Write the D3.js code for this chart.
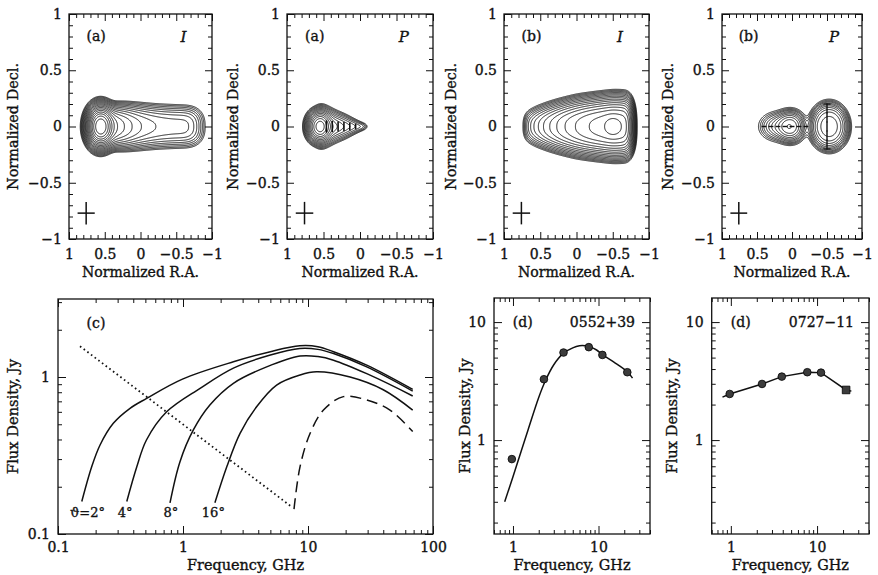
<!DOCTYPE html>
<html><head><meta charset="utf-8">
<script src="https://cdn.jsdelivr.net/npm/d3@7"></script>
<style>
body{margin:0;background:#fff}
svg{display:block}
text{font-family:"DejaVu Serif",serif;fill:#111;stroke:#111;stroke-width:0.35px}
</style></head>
<body><svg id="c" width="878" height="575"></svg>
<script>
// ================= DATA =================
// map tick values (normalized coordinates)
const mapTicks = [1, 0.5, 0, -0.5, -1];
// --- (a) I : core + jet
const aI_blobs = [{x:0.56, y:0, sx:0.08, sy:0.076, a:1, p:2}];
const aI_jetX  = [0.5, 0.4, 0.3, 0.2, 0.1, 0.0, -0.2, -0.4, -0.6, -0.7, -0.76];
const aI_jetA  = [0.2, 0.15, 0.11, 0.078, 0.056, 0.043, 0.031, 0.027, 0.026, 0.028, 0.028];
const aI_jetSy = [0.09, 0.095, 0.1, 0.102, 0.104, 0.104, 0.103, 0.102, 0.1, 0.1, 0.1];
const aI_levels = [0.002,0.0028,0.004,0.0057,0.008,0.0113,0.016,0.0226,0.032,0.045,0.064,0.09,0.128,0.18,0.256,0.36,0.51,0.72];
// --- (a) P
const aP_blobs = [{x:0.56, y:0, sx:0.075, sy:0.062, a:1, p:2}];
const aP_jetX  = [0.56, 0.4, 0.2, 0.05, -0.07];
const aP_jetA  = [0.3, 0.2, 0.1, 0.05, 0.03];
const aP_jetSy = [0.078, 0.068, 0.052, 0.033, 0.018];
const aP_levels = [0.01,0.014,0.02,0.028,0.04,0.057,0.08,0.113,0.16,0.226,0.32,0.45,0.64,0.9];
const aP_vecRA  = [0.46, 0.38, 0.30, 0.22, 0.14, 0.06];
const aP_vecLen = [0.11, 0.10, 0.09, 0.08, 0.07, 0.05];
// --- (b) I
const bI_blobs = [{x:-0.5, y:0, sx:0.07, sy:0.05, a:0.25, p:2}];
const bI_jetX  = [-0.72, -0.6, -0.5, -0.4, -0.2, 0.0, 0.15, 0.3, 0.45, 0.55, 0.62, 0.69];
const bI_jetA  = [0.6, 0.68, 0.72, 0.66, 0.53, 0.37, 0.26, 0.16, 0.09, 0.055, 0.035, 0.02];
const bI_jetSy = [0.13, 0.13, 0.13, 0.128, 0.124, 0.12, 0.114, 0.108, 0.1, 0.094, 0.088, 0.082];
const bI_levels = [0.004,0.0057,0.008,0.0113,0.016,0.0226,0.032,0.045,0.064,0.09,0.128,0.18,0.256,0.36,0.51,0.72];
// --- (b) P : two components
const bP_blobs = [
  {x:0.02, y:0, sx:0.105, sy:0.07, a:0.9, p:2.2},
  {x:0.2, y:0, sx:0.13, sy:0.063, a:0.3, p:2},
  {x:-0.53, y:0, sx:0.165, sy:0.125, a:1.2, p:3}
];
const bP_levels = [0.03,0.045,0.065,0.09,0.13,0.18,0.25,0.35,0.5,0.7,1.0];
const bP_hvecRA  = [0.4, 0.3, 0.2, 0.1, 0.0, -0.1, -0.2];
const bP_vvecDec = [0.16, 0.08, 0, -0.08, -0.16];
// beam cross
const beamRA = 0.76, beamDec = -0.77;

// --- (c) model spectra
const cXTicks = [0.1, 1, 10, 100];
const cYTicks = [0.1, 1];
const c2Freq  = [0.155,0.186,0.217,0.277,0.377,0.512,0.99,2.53,5,8.6,12,16,29.5,68.8];
const c2Flux  = [0.161,0.268,0.369,0.507,0.632,0.731,0.97,1.25,1.45,1.58,1.56,1.45,1.19,0.834];
const c4Freq  = [0.355,0.427,0.51,0.74,1.37,2.53,5,8.6,12,16,29.5,68.8];
const c4Flux  = [0.161,0.268,0.397,0.6,0.847,1.14,1.38,1.52,1.5,1.41,1.16,0.814];
const c8Freq  = [0.787,0.946,1.21,1.64,2.53,4.67,8.63,12,16,29.5,68.8];
const c8Flux  = [0.158,0.289,0.46,0.663,0.912,1.16,1.36,1.35,1.28,1.05,0.757];
const c16Freq = [1.8,2.24,2.86,3.88,5.61,8.63,11.7,21.7,40,68.8];
const c16Flux = [0.158,0.268,0.438,0.647,0.889,1.03,1.08,1.0,0.83,0.616];
const cDashFreq = [7.73,8.63,10.4,13.3,19.2,29.5,45.3,68.8];
const cDashFlux = [0.144,0.268,0.438,0.616,0.75,0.714,0.616,0.449];
const cDotFreq = [0.15, 7.4];
const cDotFlux = [1.57, 0.149];
const cAngleLabels = ["\u03D1=2\u00B0", "4\u00B0", "8\u00B0", "16\u00B0"];
const cAngleFreq = [0.172, 0.345, 0.8, 1.75];

// --- (d) observed spectra (RATAN-600 frequencies)
const dXTicks = [1, 10];
const dYTicks = [1, 10];
const obsFreq = [0.97, 2.3, 3.9, 7.7, 11.1, 21.7];
const s0552Flux = [0.69, 3.28, 5.52, 6.13, 5.27, 3.76];
const s0552FitFreq = [0.8,1.0,1.5,2.0,2.4,3.0,3.9,5.0,6.0,7.0,8.0,9.5,11.1,15,21.7,25];
const s0552FitFlux = [0.3,0.49,1.22,2.3,3.2,4.35,5.45,6.05,6.3,6.3,6.15,5.8,5.3,4.6,3.8,3.35];
const s0727Flux = [2.46, 2.99, 3.45, 3.76, 3.73, 2.66];
const s0727FitFreq = [0.8, 0.97, 2.3, 3.9, 7.7, 11.1, 21.7, 25];
const s0727FitFlux = [2.31, 2.46, 2.99, 3.45, 3.76, 3.73, 2.66, 2.6];

// ================= DRAWING =================
const svg = d3.select('#c');
const INK = '#111';
const fmtNum = v => (v < 0 ? '\u2212' : '') + Math.abs(v);

function styleAxis(g, fs) {
  g.select('.domain').remove();
  g.attr('font-family', null).attr('font-size', null);
  g.selectAll('line').attr('stroke', INK).attr('stroke-width', 1);
  g.selectAll('text').attr('font-size', fs || 14).attr('fill', INK);
}
function axisOf(orient, scale) {
  return ({bottom:d3.axisBottom, top:d3.axisTop, left:d3.axisLeft, right:d3.axisRight})[orient](scale);
}
function ticks(parent, tx, ty, orient, scale, values, size, labels, pad) {
  const ax = axisOf(orient, scale).tickValues(values).tickSizeInner(-size).tickSizeOuter(0)
    .tickPadding(pad || 0).tickFormat(labels ? fmtNum : () => '');
  const g = parent.append('g').attr('transform', `translate(${tx},${ty})`).call(ax);
  styleAxis(g);
  return g;
}
function frame(g, l, r, t, b) {
  g.append('rect').attr('x', l).attr('y', t).attr('width', r - l).attr('height', b - t)
    .attr('fill', 'none').attr('stroke', INK).attr('stroke-width', 1.3);
}
function logMinor(dom) {
  const out = [];
  const lo = Math.floor(Math.log10(dom[0])) , hi = Math.ceil(Math.log10(dom[1]));
  for (let d = lo; d <= hi; d++) for (let m = 2; m <= 9; m++) {
    const v = m * Math.pow(10, d);
    if (v >= dom[0] * 0.999 && v <= dom[1] * 1.001) out.push(v);
  }
  return out;
}

// ---------- contour maps ----------
const mapTop = 14, mapBottom = 239;
const maps = [
  {left:69,  right:212, ytx:13,  tag:'(a)', pol:'I', blobs:aI_blobs, jet:{x:aI_jetX, a:aI_jetA, sy:aI_jetSy, sx:0.095, p:2.5}, levels:aI_levels},
  {left:287, right:433, ytx:233, tag:'(a)', pol:'P', blobs:aP_blobs, jet:{x:aP_jetX, a:aP_jetA, sy:aP_jetSy, sx:0.04, p:2}, levels:aP_levels},
  {left:504, right:649, ytx:451, tag:'(b)', pol:'I', blobs:bI_blobs, jet:{x:bI_jetX, a:bI_jetA, sy:bI_jetSy, sx:0.045, p:2.5}, levels:bI_levels},
  {left:722, right:862, ytx:668, tag:'(b)', pol:'P', blobs:bP_blobs, jet:null, levels:bP_levels}
];

function computeField(m, xs, ys, nx, ny, ss) {
  const v = new Float64Array(nx * ny);
  const X = new Float64Array(nx), Y = new Float64Array(ny);
  for (let i = 0; i < nx; i++) X[i] = xs.invert((i + 0.5) / ss);
  for (let j = 0; j < ny; j++) Y[j] = ys.invert((j + 0.5) / ss);
  for (const b of m.blobs) {
    for (let j = 0; j < ny; j++) {
      const dy = (Y[j] - b.y) / b.sy;
      for (let i = 0; i < nx; i++) {
        const dx = (X[i] - b.x) / b.sx;
        const r2 = dx * dx + dy * dy;
        v[j * nx + i] += b.a * Math.exp(-0.5 * Math.pow(r2, b.p / 2));
      }
    }
  }
  const r = m.jet;
  if (r) {
    const aS = d3.scaleLinear().domain(r.x).range(r.a);
    const syS = d3.scaleLinear().domain(r.x).range(r.sy);
    const lo = d3.min(r.x), hi = d3.max(r.x), step = 0.01;
    const norm = step / (Math.sqrt(2 * Math.PI) * r.sx);
    const gy = new Float64Array(ny);
    for (let s = lo; s <= hi + 1e-9; s += step) {
      const a = aS(s) * norm, sy = syS(s);
      for (let j = 0; j < ny; j++) gy[j] = Math.exp(-0.5 * Math.pow(Math.abs(Y[j]) / sy, r.p));
      for (let i = 0; i < nx; i++) {
        const u = (X[i] - s) / r.sx;
        if (u * u > 30) continue;
        const ag = a * Math.exp(-0.5 * u * u);
        for (let j = 0; j < ny; j++) if (gy[j] > 1e-8) v[j * nx + i] += ag * gy[j];
      }
    }
  }
  return v;
}

maps.forEach((m, k) => {
  const g = svg.append('g');
  const w = m.right - m.left, h = mapBottom - mapTop;
  const xs = d3.scaleLinear().domain([1, -1]).range([0, w]);
  const ys = d3.scaleLinear().domain([1, -1]).range([0, h]);
  const X = d3.scaleLinear().domain([1, -1]).range([m.left, m.right]);
  const Y = d3.scaleLinear().domain([1, -1]).range([mapTop, mapBottom]);

  // contours
  const ss = 2, nx = Math.round(w * ss), ny = Math.round(h * ss);
  const vals = computeField(m, xs, ys, nx, ny, ss);
  const cs = d3.contours().size([nx, ny]).thresholds(m.levels)(Array.from(vals));
  const path = d3.geoPath(d3.geoIdentity().scale(1 / ss));
  g.append('g').attr('transform', `translate(${m.left},${mapTop})`)
    .selectAll('path').data(cs).join('path')
    .attr('d', path).attr('fill', 'none').attr('stroke', INK).attr('stroke-width', 0.95);

  // polarization vectors
  if (k === 1) {
    g.append('g').selectAll('line').data(aP_vecRA).join('line')
      .attr('x1', d => X(d)).attr('x2', d => X(d))
      .attr('y1', (d, i) => Y(aP_vecLen[i] / 2)).attr('y2', (d, i) => Y(-aP_vecLen[i] / 2))
      .attr('stroke', INK).attr('stroke-width', 1.6);
  }
  if (k === 3) {
    g.append('g').selectAll('line').data(bP_hvecRA).join('line')
      .attr('x1', d => X(d + 0.035)).attr('x2', d => X(d - 0.035))
      .attr('y1', Y(0)).attr('y2', Y(0)).attr('stroke', INK).attr('stroke-width', 1.4);
    g.append('g').selectAll('line').data(bP_vvecDec).join('line')
      .attr('x1', X(-0.5)).attr('x2', X(-0.5))
      .attr('y1', d => Y(d + 0.045)).attr('y2', d => Y(d - 0.045)).attr('stroke', INK).attr('stroke-width', 1.4);
    g.append('g').selectAll('line').data([0.2, -0.2]).join('line')
      .attr('x1', X(-0.45)).attr('x2', X(-0.55))
      .attr('y1', d => Y(d)).attr('y2', d => Y(d)).attr('stroke', INK).attr('stroke-width', 1.2);
  }
  // beam cross
  g.append('line').attr('x1', X(beamRA + 0.12)).attr('x2', X(beamRA - 0.12))
    .attr('y1', Y(beamDec)).attr('y2', Y(beamDec)).attr('stroke', INK).attr('stroke-width', 1.5);
  g.append('line').attr('x1', X(beamRA)).attr('x2', X(beamRA))
    .attr('y1', Y(beamDec + 0.1)).attr('y2', Y(beamDec - 0.1)).attr('stroke', INK).attr('stroke-width', 1.5);

  // frame & ticks
  const minor = d3.range(-10, 11).map(d => d / 10).filter(d => Math.abs(d * 2 - Math.round(d * 2)) > 1e-6);
  frame(g, m.left, m.right, mapTop, mapBottom);
  ticks(g, 0, mapBottom, 'bottom', X, mapTicks, 7, true, 10);
  ticks(g, 0, mapBottom, 'bottom', X, minor, 4, false);
  ticks(g, 0, mapTop, 'top', X, mapTicks, 7, false);
  ticks(g, 0, mapTop, 'top', X, minor, 4, false);
  ticks(g, m.left, 0, 'left', Y, mapTicks, 7, true, 7);
  ticks(g, m.left, 0, 'left', Y, minor, 4, false);
  ticks(g, m.right, 0, 'right', Y, mapTicks, 7, false);
  ticks(g, m.right, 0, 'right', Y, minor, 4, false);

  // titles
  g.append('text').attr('x', (m.left + m.right) / 2).attr('y', 277).attr('text-anchor', 'middle')
    .attr('font-size', 14).attr('textLength', 117).attr('lengthAdjust', 'spacingAndGlyphs').text('Normalized R.A.');
  g.append('text').attr('transform', `translate(${m.ytx},${(mapTop + mapBottom) / 2}) rotate(-90)`)
    .attr('text-anchor', 'middle').attr('dy', '0.35em').attr('font-size', 14)
    .attr('textLength', 127).attr('lengthAdjust', 'spacingAndGlyphs').text('Normalized Decl.');
  g.append('text').attr('x', X(0.62)).attr('y', Y(0.8)).attr('dy', '0.35em').attr('text-anchor', 'middle')
    .attr('font-size', 14).text(m.tag);
  g.append('text').attr('x', X(-0.6)).attr('y', Y(0.8)).attr('dy', '0.35em').attr('text-anchor', 'middle')
    .attr('font-size', 15).attr('font-style', 'italic').text(m.pol);
});

// ---------- log panels ----------
function logPanel(p) {
  const g = svg.append('g');
  const X = d3.scaleLog().domain(p.xd).range([p.left, p.right]);
  const Y = d3.scaleLog().domain(p.yd).range([p.bottom, p.top]);
  frame(g, p.left, p.right, p.top, p.bottom);
  const xm = logMinor(p.xd), ym = logMinor(p.yd);
  const xM = p.xTicks.filter(v => v >= p.xd[0] * 0.999 && v <= p.xd[1] * 1.001);
  const yM = p.yTicks.filter(v => v >= p.yd[0] * 0.999 && v <= p.yd[1] * 1.001);
  ticks(g, 0, p.bottom, 'bottom', X, xM, 8, true, 8);
  ticks(g, 0, p.bottom, 'bottom', X, xm, 4, false);
  ticks(g, 0, p.top, 'top', X, xM, 8, false);
  ticks(g, 0, p.top, 'top', X, xm, 4, false);
  ticks(g, p.left, 0, 'left', Y, yM, 8, true, 8);
  ticks(g, p.left, 0, 'left', Y, ym, 4, false);
  ticks(g, p.right, 0, 'right', Y, yM, 8, false);
  ticks(g, p.right, 0, 'right', Y, ym, 4, false);
  g.append('text').attr('x', (p.left + p.right) / 2).attr('y', 570).attr('text-anchor', 'middle')
    .attr('font-size', 14).attr('textLength', 117).attr('lengthAdjust', 'spacingAndGlyphs').text('Frequency, GHz');
  g.append('text').attr('transform', `translate(${p.ytx},${(p.top + p.bottom) / 2}) rotate(-90)`)
    .attr('text-anchor', 'middle').attr('dy', '0.35em').attr('font-size', 14)
    .attr('textLength', 115).attr('lengthAdjust', 'spacingAndGlyphs').text('Flux Density, Jy');
  return {g, X, Y};
}

// (c)
{
  const {g, X, Y} = logPanel({left:58, right:433, top:299, bottom:534, xd:[0.1, 100], yd:[0.1, 3.14], xTicks:cXTicks, yTicks:cYTicks, ytx:13});
  const line = d3.line().x(d => X(d[0])).y(d => Y(d[1])).curve(d3.curveCatmullRom.alpha(0.5));
  const series = [[c2Freq, c2Flux], [c4Freq, c4Flux], [c8Freq, c8Flux], [c16Freq, c16Flux]];
  series.forEach(([f, s]) => {
    g.append('path').attr('d', line(f.map((v, i) => [v, s[i]]))).attr('fill', 'none')
      .attr('stroke', INK).attr('stroke-width', 1.5);
  });
  g.append('path').attr('d', line(cDashFreq.map((v, i) => [v, cDashFlux[i]]))).attr('fill', 'none')
    .attr('stroke', INK).attr('stroke-width', 1.5).attr('stroke-dasharray', '11,6');
  g.append('path').attr('d', d3.line().x(d => X(d[0])).y(d => Y(d[1]))(cDotFreq.map((v, i) => [v, cDotFlux[i]])))
    .attr('fill', 'none').attr('stroke', INK).attr('stroke-width', 1.8).attr('stroke-dasharray', '1.6,3');
  g.selectAll('.ang').data(cAngleLabels).join('text').attr('class', 'ang')
    .attr('x', (d, i) => X(cAngleFreq[i])).attr('y', 517).attr('text-anchor', 'middle')
    .attr('font-size', 13).text(d => d);
  g.append('text').attr('x', 96).attr('y', 328).attr('text-anchor', 'middle').attr('font-size', 14).text('(c)');
}

// (d) panels
function dPanel(left, right, ytx, name, flux, fitF, fitS, curve, squareLast) {
  const {g, X, Y} = logPanel({left, right, top:298, bottom:534, xd:[0.6, 40], yd:[0.16, 16], xTicks:dXTicks, yTicks:dYTicks, ytx});
  const line = d3.line().x(d => X(d[0])).y(d => Y(d[1])).curve(curve);
  g.append('path').attr('d', line(fitF.map((v, i) => [v, fitS[i]]))).attr('fill', 'none')
    .attr('stroke', INK).attr('stroke-width', 1.5);
  const pts = obsFreq.map((v, i) => [v, flux[i]]);
  g.selectAll('.pt').data(pts).join(enter => enter.append('path')).attr('class', 'pt')
    .attr('d', (d, i) => (squareLast && i === pts.length - 1) ? d3.symbol(d3.symbolSquare, 58)() : d3.symbol(d3.symbolCircle, 46)())
    .attr('transform', d => `translate(${X(d[0])},${Y(d[1])})`)
    .attr('fill', '#3c3c3c').attr('stroke', '#000').attr('stroke-width', 0.8);
  g.append('text').attr('x', X(1.3)).attr('y', Y(10)).attr('dy', '0.35em').attr('text-anchor', 'middle').attr('font-size', 14).text('(d)');
  g.append('text').attr('x', right - 15).attr('y', Y(10)).attr('dy', '0.35em').attr('text-anchor', 'end').attr('font-size', 14).text(name);
}
dPanel(494, 650, 465, '0552+39', s0552Flux, s0552FitFreq, s0552FitFlux, d3.curveCatmullRom.alpha(0.5), false);
dPanel(711.7, 869, 672, '0727\u221211', s0727Flux, s0727FitFreq, s0727FitFlux, d3.curveLinear, true);
</script>
</body></html>
